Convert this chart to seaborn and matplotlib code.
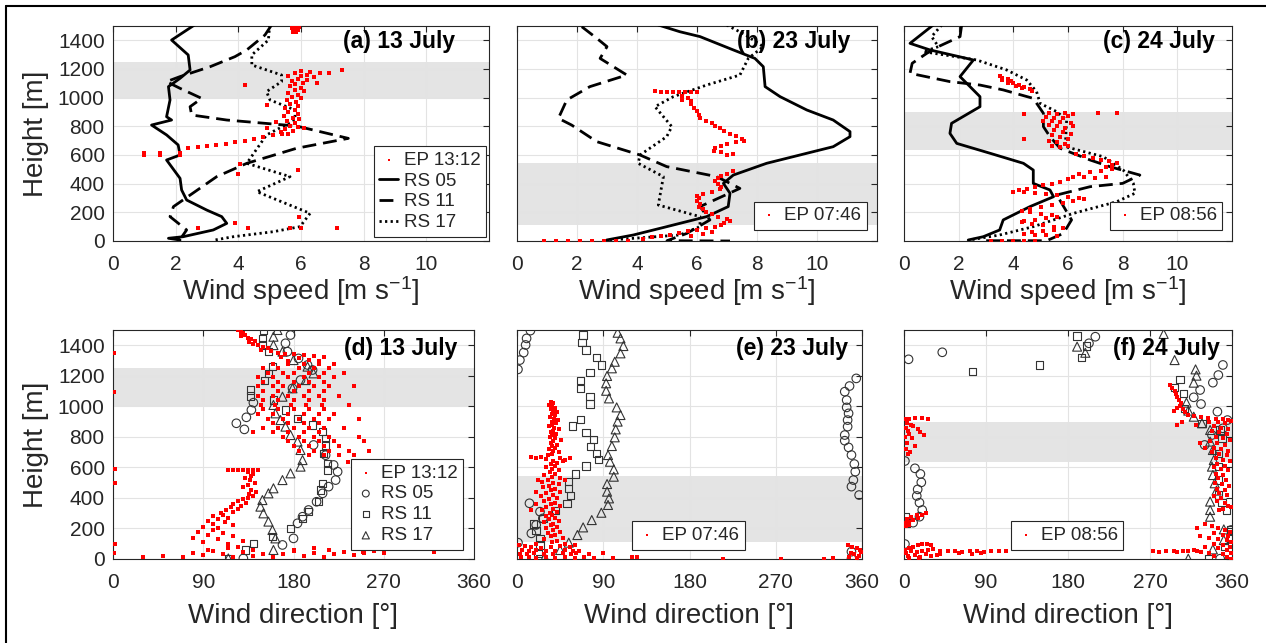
import matplotlib.pyplot as plt
import seaborn as sns
from matplotlib.lines import Line2D

# ---------------- wind speed profiles (top row) ----------------
# (a) 13 July
rs05_a_spd = [2.6, 1.87, 2.4, 2.46, 2.14, 1.77, 1.82, 1.71, 1.87, 1.23, 1.71, 2.08, 2.14, 1.71, 2.14, 2.19, 2.35, 2.99, 3.47, 3.63, 3.2, 2.24, 1.77, 2.14]
rs05_a_hgt = [1507, 1402, 1298, 1193, 1135, 1077, 984, 867, 844, 809, 740, 670, 600, 565, 437, 356, 286, 216, 170, 123, 77, 30, 19, 7]
rs11_a_spd = [5.06, 4.85, 4.27, 3.89, 3.10, 2.14, 1.71, 2.14, 2.83, 2.46, 2.51, 3.63, 5.86, 7.51, 5.86, 4.27, 3.31, 1.93, 1.82, 2.35, 2.2]
rs11_a_hgt = [1507, 1437, 1333, 1286, 1216, 1147, 1112, 1065, 995, 937, 879, 844, 802, 716, 647, 542, 449, 240, 170, 77, 30]
rs17_a_spd = [5.0, 4.96, 4.43, 4.43, 5.38, 5.38, 4.9, 5.01, 5.81, 5.81, 4.9, 4.27, 5.65, 4.59, 6.29, 5.97, 5.12, 3.84, 3.2]
rs17_a_hgt = [1507, 1402, 1298, 1228, 1158, 1112, 1042, 984, 914, 844, 740, 542, 449, 344, 193, 100, 65, 30, 5]
ep_a = [(5.75, 1500), (5.85, 1500), (5.95, 1495), (5.7, 1485), (5.8, 1480), (5.9, 1470), (5.75, 1460), (5.85, 1455),
        (6.0, 1185), (6.3, 1180), (6.6, 1175), (6.9, 1170), (5.8, 1170), (6.2, 1160), (5.6, 1150), (6.0, 1150),
        (6.4, 1145), (5.9, 1130), (6.2, 1125), (5.7, 1115), (6.05, 1105), (5.8, 1095), (6.5, 1100), (5.65, 1080),
        (6.0, 1070), (5.8, 1055), (6.1, 1045), (5.6, 1035), (5.9, 1020), (5.7, 1005), (6.0, 995), (5.55, 985),
        (5.85, 970), (5.65, 955), (5.9, 940), (5.5, 925), (5.8, 915), (5.6, 900), (5.9, 885), (5.45, 870),
        (5.75, 860), (5.95, 850), (5.55, 835), (5.8, 820), (5.65, 805), (5.9, 795), (5.5, 780), (5.75, 770),
        (6.1, 790), (5.35, 760), (5.6, 750), (7.3, 1195), (4.2, 1090), (4.9, 950), (4.9, 790), (5.2, 830),
        (1.0, 615), (1.0, 600), (1.5, 615), (1.5, 600), (2.15, 612), (2.15, 600), (2.4, 650), (2.7, 658),
        (3.0, 665), (3.3, 672), (3.6, 680), (3.9, 690), (4.2, 700), (4.5, 712), (4.8, 725), (5.1, 738), (5.4, 750),
        (4.05, 535), (4.0, 470), (5.9, 495), (3.9, 125), (2.7, 90), (4.3, 90), (5.65, 90), (6.0, 90), (7.15, 88), (5.95, 170)]

# (b) 23 July
rs05_b_spd = [4.71, 5.43, 6.1, 7.21, 7.93, 8.21, 8.27, 8.77, 9.66, 10.54, 11.1, 11.1, 10.54, 9.43, 8.32, 7.21, 6.88, 7.1, 7.04, 6.32, 4.99, 3.88, 2.99]
rs05_b_hgt = [1507, 1460, 1426, 1333, 1274, 1216, 1077, 1007, 914, 844, 763, 728, 658, 600, 542, 460, 402, 333, 240, 170, 100, 42, 7]
rs11_b_spd = [2.16, 2.66, 3.0, 2.77, 3.66, 2.43, 1.66, 1.38, 1.82, 2.66, 4.1, 4.99, 6.66, 7.43, 6.1, 6.43, 5.66, 5.0, 7.1]
rs11_b_hgt = [1495, 1414, 1356, 1274, 1158, 1077, 984, 856, 809, 693, 600, 519, 449, 367, 240, 147, 53, 2, 0]
rs17_b_spd = [6.99, 7.6, 8.21, 7.71, 7.43, 6.32, 5.21, 4.6, 5.16, 4.99, 4.1, 4.04, 4.88, 4.71, 6.1, 6.1, 5.43, 3.1]
rs17_b_hgt = [1507, 1440, 1356, 1274, 1158, 1088, 1007, 937, 798, 728, 600, 542, 449, 251, 170, 100, 42, 7]
ep_b = [(4.6, 1045), (4.8, 1043), (5.0, 1042), (5.2, 1040), (5.4, 1040), (5.6, 1038), (5.8, 1040), (6.0, 1042),
        (5.5, 1010), (5.7, 1000), (5.5, 985), (5.8, 975), (5.8, 955), (5.9, 930), (6.0, 905), (6.05, 880),
        (6.1, 855), (6.3, 840), (6.5, 820), (6.6, 800), (6.75, 785), (6.9, 770), (7.1, 750), (7.3, 730),
        (7.5, 715), (7.55, 700), (7.3, 690), (7.0, 680), (6.8, 665), (6.6, 650), (6.55, 630), (6.8, 620),
        (7.2, 605), (7.0, 600), (7.2, 485), (7.0, 470), (6.8, 455), (6.7, 440), (6.6, 420), (6.7, 400),
        (6.8, 380), (6.75, 360), (6.5, 345), (6.2, 330), (6.0, 315), (6.05, 300), (6.0, 280), (6.1, 260),
        (6.05, 240), (6.2, 220), (6.3, 200), (6.5, 185), (6.7, 170), (7.0, 155), (7.1, 140), (6.9, 125),
        (6.8, 110), (6.6, 100), (6.3, 90), (6.0, 80), (5.7, 70), (5.4, 55), (5.1, 45), (4.8, 35), (4.5, 25),
        (4.2, 15), (6.5, 60), (6.2, 50), (5.8, 35), (0.9, 0), (1.3, 0), (1.7, 0), (2.1, 0), (2.5, 0), (2.9, 0),
        (3.3, 0), (3.7, 0)]

# (c) 24 July
rs05_c_spd = [1.07, 0.22, 0.95, 2.54, 2.05, 2.78, 2.78, 1.74, 1.68, 1.93, 3.15, 4.37, 4.73, 4.73, 5.34, 5.47, 4.61, 3.63, 3.5, 2.9, 2.35]
rs05_c_hgt = [1507, 1379, 1333, 1263, 1147, 1007, 937, 821, 751, 681, 612, 542, 495, 402, 356, 309, 240, 147, 77, 30, 7]
rs11_c_spd = [2.11, 2.05, 1.3, 0.83, 0.3, 0.22, 1.68, 2.78, 3.63, 4.73, 5.1, 5.1, 5.34, 5.71, 6.81, 7.54, 8.63, 8.0, 6.81, 5.59, 6.13, 5.83, 5.22, 3.0]
rs11_c_hgt = [1507, 1426, 1360, 1309, 1240, 1170, 1112, 1088, 1054, 995, 891, 798, 728, 647, 565, 518, 460, 402, 379, 321, 147, 53, 2, 2]
rs17_c_spd = [1.38, 1.01, 1.26, 0.71, 2.66, 3.76, 4.49, 4.85, 4.98, 5.59, 5.95, 5.9, 7.29, 8.02, 8.39, 8.45, 7.78, 6.2, 4.73, 3.5, 2.4]
rs17_c_hgt = [1507, 1426, 1356, 1321, 1263, 1193, 1123, 1042, 960, 902, 844, 658, 588, 495, 402, 333, 274, 193, 100, 42, 7]
ep_c = [(3.5, 1150), (3.6, 1140), (3.8, 1130), (3.9, 1115), (3.6, 1120), (4.0, 1100), (4.2, 1090), (3.8, 1100),
        (4.4, 1075), (4.1, 1080), (4.6, 1060), (4.3, 1065), (4.7, 1045),
        (5.3, 890), (5.6, 885), (5.9, 890), (6.2, 885), (4.4, 888), (7.1, 890), (7.8, 890), (5.2, 865), (5.5, 860),
        (5.8, 855), (6.0, 870), (5.1, 840), (5.4, 835), (5.7, 830), (6.1, 825), (5.3, 810), (5.6, 800), (5.9, 790),
        (6.2, 805), (5.5, 775), (5.8, 760), (6.1, 750), (5.4, 740), (5.7, 725), (6.0, 715), (4.4, 712), (5.3, 700),
        (5.6, 690), (5.9, 680), (5.4, 665), (5.7, 655), (6.0, 660),
        (6.3, 605), (6.6, 595), (6.9, 580), (7.2, 565), (7.5, 555), (7.8, 545), (7.6, 530), (7.4, 515), (7.6, 500),
        (7.2, 490), (6.8, 478), (6.4, 465), (6.2, 450), (6.6, 445), (7.0, 440), (7.4, 450), (6.0, 430), (5.7, 415),
        (5.4, 400), (5.1, 390), (4.8, 375), (4.5, 365), (4.2, 355), (4.0, 345), (4.4, 340), (4.8, 335), (5.2, 330),
        (5.6, 320), (6.0, 310), (6.4, 300), (6.6, 290), (6.2, 280), (5.8, 265), (5.4, 250), (5.0, 240), (4.6, 225),
        (4.3, 210), (4.6, 200), (5.0, 190), (5.4, 180), (5.6, 170), (5.2, 160), (4.8, 150), (4.4, 140), (4.3, 130),
        (4.7, 120), (5.1, 110), (5.5, 100), (5.8, 90), (5.5, 80), (5.1, 70), (4.7, 60), (4.4, 50), (4.8, 45),
        (5.2, 40), (5.6, 35), (3.2, 0), (3.6, 0), (4.0, 0), (4.4, 0), (4.8, 0)]

# ---------------- wind direction profiles (bottom row) ----------------
rs05_d = [(177, 1467), (172, 1413), (174, 1358), (185, 1314), (194, 1271), (199, 1238), (187, 1172), (179, 1118),
          (140, 1024), (138, 976), (133, 928), (123, 889), (131, 849), (200, 747), (212, 680), (220, 616),
          (224, 572), (222, 517), (215, 474), (209, 430), (203, 375), (195, 321), (189, 277), (184, 234),
          (180, 135), (169, 92), (130, 4)]
rs11_d = [(150, 1500), (149, 1445), (149, 1401), (155, 1358), (159, 1260), (155, 1216), (151, 1168), (137, 1107),
          (137, 1068), (160, 1041), (172, 976), (184, 921), (199, 878), (209, 834), (212, 790), (212, 747),
          (210, 692), (214, 627), (214, 583), (209, 496), (207, 452), (205, 376), (195, 310), (189, 266),
          (177, 201), (159, 146), (140, 103), (132, 59), (115, 4)]
rs17_d = [(164, 1500), (160, 1456), (160, 1401), (169, 1358), (180, 1303), (194, 1260), (200, 1216), (192, 1172),
          (179, 1118), (169, 1063), (160, 1009), (162, 954), (167, 910), (172, 867), (177, 812), (184, 769),
          (187, 714), (189, 648), (187, 605), (177, 561), (169, 517), (160, 463), (155, 430), (149, 386),
          (147, 343), (150, 299), (155, 245), (159, 190), (162, 135), (160, 59), (115, 4)]
ep_d = [(125, 1500), (128, 1490), (130, 1480), (132, 1470), (128, 1460), (135, 1450), (138, 1440), (142, 1430),
        (136, 1420), (140, 1410), (145, 1400), (150, 1390), (155, 1380), (148, 1370), (158, 1360), (165, 1350),
        (172, 1345), (180, 1340), (190, 1335), (200, 1330), (210, 1325), (168, 1320), (185, 1315), (195, 1305),
        (205, 1300), (175, 1295),
        (160, 1280), (175, 1280), (190, 1280), (205, 1280), (220, 1280), (150, 1250), (165, 1250), (185, 1250),
        (200, 1250), (215, 1250), (155, 1220), (170, 1220), (180, 1220), (195, 1220), (210, 1220), (230, 1220),
        (145, 1190), (160, 1190), (175, 1190), (190, 1190), (205, 1190), (220, 1190), (150, 1160), (165, 1160),
        (180, 1160), (195, 1160), (210, 1160), (145, 1130), (160, 1130), (170, 1130), (185, 1130), (200, 1130),
        (215, 1130), (240, 1130), (150, 1100), (165, 1100), (180, 1100), (195, 1100), (210, 1100), (145, 1070),
        (160, 1070), (175, 1070), (190, 1070), (205, 1070), (225, 1070), (150, 1040), (165, 1040), (180, 1040),
        (195, 1040), (210, 1040), (148, 1010), (162, 1010), (178, 1010), (192, 1010), (208, 1010), (235, 1010),
        (150, 980), (165, 980), (180, 980), (195, 980), (210, 980), (145, 950), (160, 950), (175, 950), (190, 950),
        (205, 950), (220, 950), (155, 920), (170, 920), (185, 920), (200, 920), (215, 920), (245, 920), (160, 890),
        (175, 890), (190, 890), (205, 890), (150, 860), (165, 860), (180, 860), (195, 860), (210, 860), (230, 860),
        (140, 830), (160, 830), (175, 830), (190, 830), (205, 830), (170, 800), (185, 800), (200, 800), (215, 800),
        (245, 800), (175, 770), (190, 770), (205, 770), (220, 770), (250, 770), (180, 740), (195, 740), (210, 740),
        (225, 740), (185, 710), (200, 710), (215, 710), (235, 710), (255, 710), (195, 680), (210, 680), (225, 680),
        (240, 680), (1, 1347), (1, 1096), (2, 587), (2, 500), (348, 587), (234, 637),
        (115, 583), (120, 583), (125, 583), (130, 583), (135, 583), (140, 583), (145, 583),
        (135, 570), (140, 560), (138, 545), (132, 530), (137, 515), (142, 500), (135, 485), (130, 470), (138, 455),
        (143, 440), (136, 425), (140, 410), (135, 400), (130, 390), (125, 380), (133, 370), (120, 360), (128, 350),
        (118, 340), (125, 330), (113, 320), (120, 310), (108, 300), (110, 290), (100, 280), (115, 270), (105, 260),
        (95, 250), (112, 240), (100, 230), (120, 220), (90, 210), (105, 200), (100, 190), (85, 180), (110, 170),
        (95, 160), (120, 150), (80, 140), (105, 130), (130, 120), (90, 110), (115, 100),
        (30, 10), (50, 20), (70, 10), (80, 40), (90, 25), (100, 50), (110, 30), (120, 15), (130, 45), (140, 20),
        (150, 35), (160, 10), (170, 30), (180, 50), (190, 20), (200, 40), (210, 15), (220, 30), (230, 45),
        (240, 25), (115, 70), (125, 80), (95, 60), (140, 60), (180, 60), (200, 75), (215, 60), (250, 40),
        (260, 50), (270, 40), (249, 48), (320, 48), (2, 95), (1, 40)]

rs05_e = [(14, 1496), (10, 1445), (9, 1402), (7, 1352), (3, 1303), (1, 1242), (354, 1183), (347, 1133), (342, 1096),
          (344, 1041), (344, 993), (346, 954), (345, 910), (345, 867), (342, 812), (342, 775), (346, 731),
          (349, 681), (352, 622), (353, 572), (351, 517), (349, 474), (357, 419), (13, 365), (24, 310), (27, 266),
          (20, 223), (15, 168), (1, 107), (349, 48), (349, 2)]
rs11_e = [(69, 1467), (68, 1417), (72, 1369), (83, 1321), (88, 1271), (76, 1220), (66, 1168), (66, 1118), (76, 1063),
          (76, 1015), (66, 915), (58, 871), (72, 827), (80, 784), (77, 736), (83, 692), (85, 653), (72, 609),
          (61, 557), (54, 506), (54, 463), (56, 415), (52, 365), (40, 317), (27, 266), (17, 229), (20, 186),
          (24, 135), (24, 92), (22, 37), (24, 2)]
rs17_e = [(105, 1482), (108, 1445), (111, 1395), (108, 1347), (102, 1292), (99, 1249), (94, 1199), (93, 1151),
          (93, 1102), (96, 1052), (104, 993), (108, 943), (105, 900), (103, 849), (102, 797), (99, 740), (95, 681),
          (97, 637), (101, 587), (101, 539), (94, 491), (94, 441), (96, 397), (95, 354), (88, 303), (78, 255),
          (69, 207), (63, 157), (54, 107), (45, 59), (29, 11)]
ep_e = [(35, 1030), (38, 1020), (33, 1010), (37, 1000), (40, 990), (35, 980), (38, 970), (42, 960), (36, 950),
        (40, 940), (34, 930), (39, 920), (43, 910), (37, 900), (41, 890), (36, 880), (33, 870), (39, 860), (44, 850),
        (38, 840), (35, 830), (41, 820), (37, 810), (34, 800), (40, 790), (46, 780), (38, 770), (35, 760), (42, 750),
        (36, 740), (40, 730), (33, 720), (38, 710), (44, 700), (36, 690), (32, 680), (15, 665), (20, 660), (25, 668),
        (30, 655), (45, 660), (50, 650), (55, 662), (48, 645), (38, 640), (42, 630), (35, 620), (40, 610), (30, 600),
        (37, 590), (44, 580), (34, 570), (40, 560), (28, 550), (36, 540), (45, 530), (32, 520), (22, 515), (50, 515),
        (26, 505), (38, 500), (44, 490), (33, 480), (27, 470), (40, 460), (35, 450), (20, 440), (45, 440), (30, 430),
        (38, 420), (25, 410), (42, 400), (33, 390), (28, 380), (40, 370), (35, 360), (45, 350), (30, 340), (38, 330),
        (26, 320), (42, 310), (34, 300), (15, 320), (20, 360), (36, 290), (30, 280), (40, 270), (33, 260), (44, 250),
        (28, 240), (38, 230), (35, 220), (42, 210), (30, 200), (38, 190), (45, 180), (32, 170), (40, 160), (35, 150),
        (48, 140), (28, 130), (42, 120), (36, 110), (20, 100), (50, 100), (2, 90), (8, 85), (15, 80), (25, 75),
        (35, 80), (45, 85), (55, 78), (60, 90), (5, 60), (12, 55), (20, 60), (30, 50), (40, 55), (50, 60), (58, 50),
        (65, 55), (3, 35), (10, 30), (18, 40), (28, 35), (38, 30), (48, 38), (56, 30), (62, 40), (4, 10), (12, 15),
        (20, 8), (30, 12), (40, 5), (50, 15), (60, 8), (70, 12), (80, 5), (75, 30), (90, 40), (100, 8), (120, 10),
        (125, 15), (215, 0), (275, 0), (320, 0), (330, 5), (345, 90), (350, 80), (355, 70), (358, 60), (348, 40),
        (352, 30), (357, 20), (346, 10), (355, 5), (359, 45)]

rs05_f = [(5, 1308), (42, 1354), (210, 1456), (203, 1413), (350, 1271), (345, 1205), (339, 1155), (325, 1107),
          (318, 1059), (326, 1015), (344, 965), (355, 910), (350, 856), (338, 812), (330, 747), (1, 642), (12, 594),
          (18, 557), (19, 502), (15, 456), (14, 413), (17, 369), (20, 321), (17, 277), (10, 238), (1, 98),
          (359, 190), (347, 2)]
rs11_f = [(190, 1461), (200, 1395), (195, 1321), (149, 1271), (75, 1227), (1, 277), (3, 234), (303, 1177),
          (297, 1125), (307, 1085), (308, 987), (327, 889), (347, 845), (349, 791), (345, 692), (345, 605),
          (345, 517), (345, 419), (349, 369), (354, 321), (359, 190), (359, 136), (352, 81), (334, 2)]
rs17_f = [(190, 1391), (199, 1351), (285, 1474), (297, 1303), (320, 1242), (321, 1201), (318, 1155), (310, 1024),
          (312, 972), (318, 932), (327, 889), (336, 845), (336, 769), (339, 714), (340, 648), (338, 605),
          (339, 550), (341, 496), (343, 448), (336, 376), (336, 321), (336, 277), (351, 194), (351, 124),
          (339, 63), (312, 2)]
ep_f = [(1, 920), (5, 915), (12, 925), (20, 922), (26, 920), (3, 890), (8, 880), (2, 860), (10, 870), (15, 850),
        (4, 840), (18, 830), (6, 820), (22, 810), (1, 800), (9, 790), (3, 760), (12, 740), (2, 720), (7, 700),
        (4, 690), (1, 234), (5, 245), (10, 255), (15, 270), (20, 285), (24, 300), (3, 260), (8, 275), (14, 290),
        (2, 215), (6, 225), (1, 60), (5, 70), (10, 80), (15, 90), (20, 95), (25, 100), (30, 90), (2, 40), (8, 50),
        (14, 45), (20, 55), (26, 60), (32, 65), (4, 20), (12, 25), (18, 15), (24, 30), (30, 20), (36, 25), (40, 35),
        (6, 5), (16, 8), (40, 52), (48, 50), (56, 50), (64, 48), (72, 50), (80, 50), (88, 48), (96, 50), (104, 52),
        (112, 50), (60, 40), (85, 38), (75, 30), (273, 50), (280, 48), (288, 50), (296, 52), (300, 48), (306, 50),
        (312, 55), (318, 60), (322, 52), (326, 48), (292, 1140), (294, 1120), (297, 1100), (298, 1080), (300, 1060),
        (302, 1040), (304, 1020), (303, 1000), (306, 980), (308, 960), (312, 945), (318, 935), (326, 930), (334, 925),
        (342, 920), (350, 915), (356, 910), (359, 905), (300, 990), (296, 970), (305, 900), (300, 880), (335, 900),
        (345, 895), (352, 890), (340, 870), (348, 860), (356, 850), (338, 840), (346, 830), (354, 820), (342, 800),
        (350, 790), (358, 780), (336, 770), (344, 760), (352, 750), (340, 730), (348, 720), (356, 710), (338, 700),
        (346, 690), (354, 680), (342, 660), (350, 650), (358, 640), (344, 620), (352, 610), (340, 600), (348, 590),
        (356, 580), (342, 560), (350, 550), (345, 530), (353, 520), (341, 500), (349, 490), (357, 480), (344, 460),
        (352, 450), (346, 430), (354, 420), (340, 410), (348, 400), (344, 380), (352, 370), (356, 350), (359, 340),
        (350, 330), (346, 320), (320, 880), (325, 760), (330, 730), (330, 230), (338, 215), (345, 200), (352, 190),
        (358, 180), (322, 200), (340, 170), (350, 160), (356, 150), (325, 150), (335, 140), (345, 130), (355, 125),
        (359, 110), (340, 100), (350, 90), (358, 80), (330, 80), (345, 70), (355, 60), (359, 40), (350, 30),
        (340, 20), (355, 10), (359, 0), (335, 40)]

# layout / labels
titles = ["(a) 13 July", "(b) 23 July", "(c) 24 July", "(d) 13 July", "(e) 23 July", "(f) 24 July"]
ep_labels = ["EP 13:12", "EP 07:46", "EP 08:56"]
bands = [(1000, 1250), (112, 546), (638, 898)]

sns.set_theme(style="white")
plt.rcParams['font.family'] = ['Liberation Sans', 'DejaVu Sans']
plt.rcParams['mathtext.fontset'] = 'custom'
plt.rcParams['mathtext.rm'] = 'Liberation Sans'
plt.rcParams['mathtext.it'] = 'Liberation Sans:italic'

W, H = 1266, 643
fig = plt.figure(figsize=(W / 100, H / 100), dpi=100)
TXT = '#262626'


def px_axes(l, r, t, b):
    return fig.add_axes([l / W, 1 - b / H, (r - l) / W, (b - t) / H])


def style(ax, xmax, xticks, xlabel, show_y, band, title, tx, ty, lpad):
    ax.set_xlim(0, xmax)
    ax.set_ylim(0, 1500)
    ax.set_xticks(xticks)
    ax.set_yticks(range(0, 1401, 200))
    ax.axhspan(band[0], band[1], color='#e4e4e4', lw=0, zorder=0)
    ax.grid(True, color='#e3e3e3', lw=0.8)
    ax.set_axisbelow(True)
    ax.tick_params(direction='in', top=True, right=True, length=4, width=0.8,
                   colors=TXT, labelsize=15)
    ax.tick_params(axis='x', pad=10)
    ax.tick_params(axis='y', pad=6)
    for s in ax.spines.values():
        s.set_color(TXT)
        s.set_linewidth(0.8)
    ax.set_xlabel(xlabel, fontsize=20, color=TXT, labelpad=lpad)
    if show_y:
        ax.set_ylabel('Height [m]', fontsize=20, color=TXT, labelpad=6)
    else:
        ax.set_yticklabels([])
        ax.set_ylabel('')
    ax.text(tx, ty, title, transform=ax.transAxes, ha='right', va='center',
            fontsize=16.5, fontweight='bold', color='black', zorder=6)


def ep_scatter(ax, pts, label):
    x, y = zip(*pts)
    sns.scatterplot(x=list(x), y=list(y), color='#ff0000', marker='s', s=7, linewidth=0,
                    ax=ax, label=label, zorder=4)


def rs_line(ax, x, y, ls, label):
    sns.lineplot(x=x, y=y, sort=False, estimator=None, color='black', lw=2,
                 linestyle=ls, ax=ax, label=label, zorder=3)


def rs_marks(ax, pts, marker, label, s):
    x, y = zip(*pts)
    sns.scatterplot(x=list(x), y=list(y), marker=marker, s=s, color='#333333',
                    edgecolor='#333333', linewidth=0.8, ax=ax, label=label, zorder=3)
    ax.collections[-1].set_facecolor('none')


def legend(ax, handles, labels, loc, anchor):
    old = ax.get_legend()
    if old is not None:
        old.remove()
    leg = ax.legend(handles, labels, loc=loc, bbox_to_anchor=anchor, fontsize=13.5, frameon=True,
                    fancybox=False, edgecolor=TXT, framealpha=1, borderaxespad=0, handlelength=1.0,
                    handletextpad=0.3, borderpad=0.3, labelspacing=0.2, markerscale=0.8)
    leg.get_frame().set_linewidth(0.8)
    leg.set_zorder(7)


dash = (0, (5, 2.5))
dot = (0, (0.8, 1.2))
spd_label = 'Wind speed [m s$^{-1}$]'
dir_label = 'Wind direction [°]'

top = [
    (px_axes(113, 489, 26, 241), ep_a, rs05_a_spd, rs05_a_hgt, rs11_a_spd, rs11_a_hgt, rs17_a_spd, rs17_a_hgt),
    (px_axes(517, 877, 26, 241), ep_b, rs05_b_spd, rs05_b_hgt, rs11_b_spd, rs11_b_hgt, rs17_b_spd, rs17_b_hgt),
    (px_axes(904, 1232, 26, 241), ep_c, rs05_c_spd, rs05_c_hgt, rs11_c_spd, rs11_c_hgt, rs17_c_spd, rs17_c_hgt),
]
title_x_top = [0.91, 0.925, 0.948]
for i, (ax, ep, x5, y5, x11, y11, x17, y17) in enumerate(top):
    ep_scatter(ax, ep, ep_labels[i])
    rs_line(ax, x5, y5, '-', 'RS 05')
    rs_line(ax, x11, y11, dash, 'RS 11')
    rs_line(ax, x17, y17, dot, 'RS 17')
    style(ax, 12, range(0, 11, 2), spd_label, i == 0, bands[i], titles[i], title_x_top[i], 0.927, 0)
    h, l = ax.get_legend_handles_labels()
    if i == 0:
        legend(ax, h, l, 'lower right', (0.992, 0.019))
    else:
        legend(ax, h[:1], l[:1], 'lower right', (0.971, 0.051))

bottom = [
    (px_axes(113, 474, 330, 559), ep_d, rs05_d, rs11_d, rs17_d),
    (px_axes(517, 862, 330, 559), ep_e, rs05_e, rs11_e, rs17_e),
    (px_axes(904, 1232, 330, 559), ep_f, rs05_f, rs11_f, rs17_f),
]
title_x_bot = [0.953, 0.96, 0.963]
for i, (ax, ep, p5, p11, p17) in enumerate(bottom):
    ep_scatter(ax, ep, ep_labels[i])
    rs_marks(ax, p5, 'o', 'RS 05', 38)
    rs_marks(ax, p11, 's', 'RS 11', 28)
    rs_marks(ax, p17, '^', 'RS 17', 42)
    style(ax, 360, range(0, 361, 90), dir_label, i == 0, bands[i], titles[i + 3], title_x_bot[i], 0.921, 8)
    h, l = ax.get_legend_handles_labels()
    if i == 0:
        legend(ax, h, l, 'lower right', (0.97, 0.04))
    else:
        legend(ax, h[:1], l[:1], 'lower center', (0.497, 0.04))

# figure frame (left and top edges visible)
fig.add_artist(Line2D([6 / W, 6 / W], [0, 1 - 6 / H], transform=fig.transFigure, color='black', lw=1.5))
fig.add_artist(Line2D([6 / W, 1], [1 - 6 / H, 1 - 6 / H], transform=fig.transFigure, color='black', lw=1.5))

fig.savefig('out.png', dpi=100)
